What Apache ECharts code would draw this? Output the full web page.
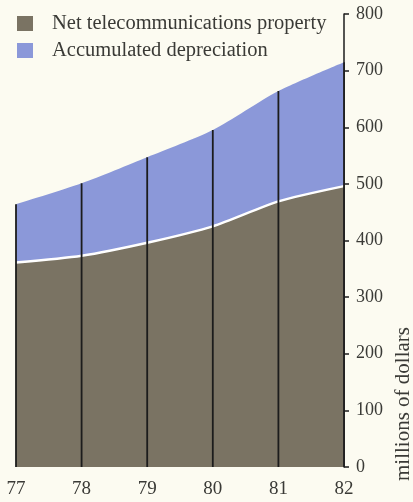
<!DOCTYPE html>
<html>
<head>
<meta charset="utf-8">
<script src="https://cdn.jsdelivr.net/npm/echarts@6/dist/echarts.min.js"></script>
<style>
  html, body { margin: 0; padding: 0; background: #fcfbf1; }
  #chart { width: 413px; height: 502px; }
</style>
</head>
<body>
<div id="chart"></div>
<script>
// Fiscal years
const years = ['77', '78', '79', '80', '81', '82'];
// Millions of dollars
const netProperty = [361, 373, 396, 425, 469, 496];
const accumulatedDepreciation = [103, 128, 151, 170, 195, 219];
const yTicks = [0, 100, 200, 300, 400, 500, 600, 700, 800];

const totals = netProperty.map((v, i) => v + accumulatedDepreciation[i]);

const serif = '"Liberation Serif", "DejaVu Serif", serif';
const textColor = '#3a3a36';

const chart = echarts.init(document.getElementById('chart'));
chart.setOption({
  backgroundColor: '#fcfbf1',
  animation: false,
  legend: {
    left: 17,
    top: 13,
    padding: 0,
    orient: 'vertical',
    itemWidth: 16,
    itemHeight: 15,
    itemGap: 6,
    icon: 'rect',
    textStyle: { fontFamily: serif, fontSize: 20.5, color: textColor, padding: [0, 0, 0, 14] },
    data: ['Net telecommunications property', 'Accumulated depreciation']
  },
  grid: { left: 16, right: 69, top: 14, bottom: 35, containLabel: false, outerBoundsMode: 'none' },
  xAxis: {
    type: 'category',
    data: years,
    boundaryGap: false,
    axisLine: { show: false },
    axisTick: { show: false },
    axisLabel: { fontFamily: serif, fontSize: 19, color: textColor, margin: 13 }
  },
  yAxis: {
    type: 'value',
    position: 'right',
    min: 0,
    max: 800,
    interval: 100,
    axisLine: { show: true, lineStyle: { color: '#1c1c1c', width: 1.5 } },
    axisTick: { show: true, inside: false, length: 5, lineStyle: { color: '#1c1c1c', width: 1.5 } },
    axisLabel: {
      fontFamily: serif, fontSize: 18, color: textColor, margin: 12,
      formatter: v => (yTicks.includes(v) ? String(v) : '')
    },
    splitLine: { show: false }
  },
  graphic: [
    {
      type: 'text',
      x: 403,
      y: 404,
      rotation: Math.PI / 2,
      style: {
        text: 'millions of dollars',
        font: '21px ' + serif,
        fill: textColor,
        textAlign: 'center',
        textVerticalAlign: 'middle'
      }
    }
  ],
  series: [
    {
      name: 'Net telecommunications property',
      type: 'line',
      stack: 'total',
      data: netProperty,
      smooth: 0.25,
      symbol: 'none',
      z: 3,
      itemStyle: { color: '#7a7363' },
      lineStyle: { color: '#ffffff', width: 2.5 },
      areaStyle: { color: '#7a7363', opacity: 1 }
    },
    {
      name: 'Accumulated depreciation',
      type: 'line',
      stack: 'total',
      data: accumulatedDepreciation,
      smooth: 0.25,
      symbol: 'none',
      z: 2,
      itemStyle: { color: '#8b98d9' },
      lineStyle: { width: 0 },
      areaStyle: { color: '#8b98d9', opacity: 1 }
    },
    {
      // vertical year rules from the baseline up to the stacked total
      type: 'custom',
      z: 5,
      silent: true,
      data: totals.map((t, i) => [i, t]),
      renderItem: (params, api) => {
        const bottom = api.coord([api.value(0), 0]);
        const top = api.coord([api.value(0), api.value(1)]);
        return {
          type: 'line',
          shape: { x1: bottom[0], y1: bottom[1], x2: top[0], y2: top[1] },
          style: { stroke: '#1c1c1c', lineWidth: 1.8 }
        };
      }
    }
  ]
});
</script>
</body>
</html>
